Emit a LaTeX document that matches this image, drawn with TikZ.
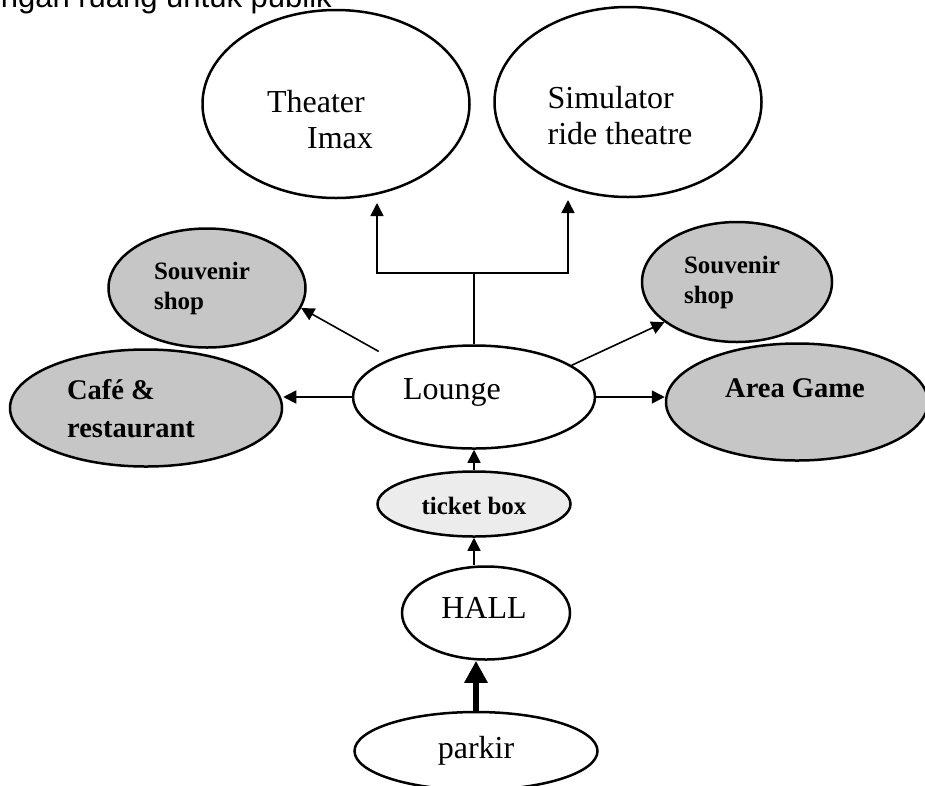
\documentclass[tikz,border=0pt]{standalone}
\usepackage{fontspec}
\setmainfont{Liberation Serif}
\newfontfamily\headfont{Liberation Sans}
\usetikzlibrary{arrows.meta,shapes.geometric}

\tikzset{
  room/.style={ellipse,draw,line width=2.5pt,inner sep=0pt},
  shop/.style={room,fill=gray!45},
  big/.style={font=\fontsize{32}{36}\selectfont},
  bold/.style={font=\bfseries\fontsize{25}{30}\selectfont},
  boldbig/.style={font=\bfseries\fontsize{28.5}{38}\selectfont},
}

\begin{document}
\begin{tikzpicture}[x=1pt,y=-1pt,>={Triangle[length=13pt,width=13pt]},line width=1.6pt]
\useasboundingbox (0,0) rectangle (925,785);

\node[anchor=base west,inner sep=0pt,font=\headfont\fontsize{31}{36}\selectfont] (head) at (0,7) {ngan ruang untuk publik};

\node[room,minimum width=267pt,minimum height=188pt,
  label={[name=theatertxt,big,align=left,shift={(-16,16)}]center:{Theater\\\hspace*{40pt}Imax}}] (theater) at (336,104) {};
\node[room,minimum width=267pt,minimum height=190pt,
  label={[name=simtxt,big,align=left,shift={(-8,14)}]center:{Simulator\\ride theatre}}] (sim) at (628,102) {};

\node[shop,minimum width=197pt,minimum height=119pt,
  label={[name=souvLtxt,bold,align=left,shift={(-5,0)}]center:{Souvenir\\shop}}] (souvL) at (207,288) {};
\node[shop,minimum width=190pt,minimum height=120pt,
  label={[name=souvRtxt,bold,align=left,shift={(-5,0)}]center:{Souvenir\\shop}}] (souvR) at (737,282) {};

\node[shop,minimum width=272pt,minimum height=117pt,
  label={[name=cafetxt,boldbig,align=left,shift={(-15,1)}]center:{Café \&\\restaurant}}] (cafe) at (146,408) {};
\node[room,minimum width=242pt,minimum height=103pt,
  label={[name=loungetxt,big,shift={(-22,-5)}]center:Lounge}] (lounge) at (474,397) {};
\node[shop,minimum width=262pt,minimum height=117pt,
  label={[name=gametxt,boldbig,shift={(-2,-14)}]center:Area Game}] (game) at (797,402) {};

\node[room,fill=gray!15,minimum width=193pt,minimum height=65pt,
  label={[name=tickettxt,bold,shift={(0,2)}]center:ticket box}] (ticket) at (474,504) {};
\node[room,minimum width=168pt,minimum height=93pt,
  label={[name=halltxt,big,shift={(-2,-5)}]center:HALL}] (hall) at (486,613) {};
\node[room,minimum width=243pt,minimum height=78pt,
  label={[name=parkirtxt,big]center:parkir}] (parkir) at (476,751) {};

% lounge to the two theatres
\coordinate (split) at (474,273);
\coordinate (theaterIn) at (377,203);
\coordinate (simIn) at (568,200);
\draw (lounge.north) -- (split);
\draw[->] (split) -| (theaterIn);
\draw[->] (split) -| (simIn);

\draw[->,shorten <=14pt] (lounge.155) -- (souvL.-12);
\draw[->] (lounge.18) -- (souvR.209);
\draw[->] (lounge.west) -- (lounge.west -| cafe.east);
\draw[->] (lounge.east) -- (lounge.east -| game.west);

\draw[->] (ticket.north) -- (lounge.south);
\draw[->] (hall.north -| ticket) -- (ticket.south);
\draw[->,line width=6pt,>={Triangle[length=22pt,width=22pt]}] (parkir.north) -- (parkir.north |- hall.south);
\end{tikzpicture}
\end{document}
